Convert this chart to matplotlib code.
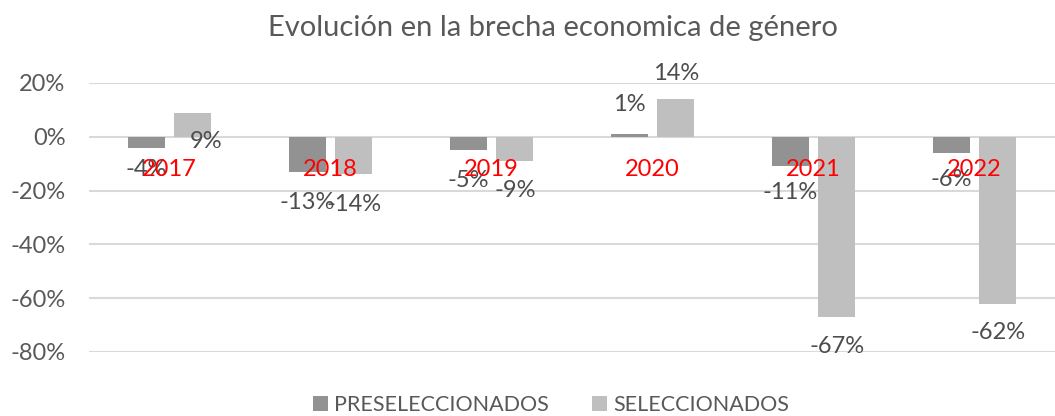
import matplotlib
matplotlib.use('Agg')
import matplotlib.pyplot as plt
import numpy as np
from matplotlib.ticker import FuncFormatter

plt.rcParams['font.family'] = ['Lato', 'DejaVu Sans']

years = ['2017', '2018', '2019', '2020', '2021', '2022']
preseleccionados = [-4, -13, -5, 1, -11, -6]
seleccionados = [9, -14, -9, 14, -67, -62]

# label offsets (pixels) from the end of each bar: (dx, dy)
pre_label_offsets = [(0, -22), (0, -31), (0, -30), (0, 30), (0, -26), (0, -27)]
sel_label_offsets = [(13, -29), (0, -30), (0, -29), (0, 26), (0, -29), (0, -29)]

DARK = '#929292'
LIGHT = '#bfbfbf'
TEXT = '#595959'
LABEL = '#4d4d4d'

W, H = 1055, 416
fig = plt.figure(figsize=(W / 100, H / 100), dpi=100)
ax = fig.add_axes([89 / W, 1 - 352 / H, (1055 - 89) / W, (352 - 83) / H])

x = np.arange(len(years))
width = 0.23
off = 0.145
bars_pre = ax.bar(x - off, preseleccionados, width, color=DARK, label='PRESELECCIONADOS', zorder=2)
bars_sel = ax.bar(x + off, seleccionados, width, color=LIGHT, label='SELECCIONADOS', zorder=2)

ax.set_xlim(-0.5, len(years) - 0.5)
ax.set_ylim(-80, 20)
ax.set_yticks(np.arange(-80, 21, 20))
ax.yaxis.set_major_formatter(FuncFormatter(lambda v, _: f'{v:.0f}%'))
ax.yaxis.grid(True, color='#d9d9d9', linewidth=1.5, zorder=0)
ax.set_xticks([])
ax.tick_params(axis='y', length=0, labelsize=17, labelcolor=TEXT, pad=17)
for s in ax.spines.values():
    s.set_visible(False)

for bars, vals, offs in ((bars_pre, preseleccionados, pre_label_offsets),
                         (bars_sel, seleccionados, sel_label_offsets)):
    for b, v, (dx, dy) in zip(bars, vals, offs):
        ax.annotate(f'{v}%', xy=(b.get_x() + b.get_width() / 2, v),
                    xytext=(dx, dy), textcoords='offset pixels',
                    ha='center', va='center', fontsize=17, color=LABEL, zorder=3)

# year labels drawn in red just under the zero line
for i, yr in enumerate(years):
    ax.text(i, -12.3, yr, ha='center', va='center', fontsize=17,
            color='#ff0000', zorder=4)

fig.text(553 / W, 1 - 28 / H, 'Evolución en la brecha economica de género',
         ha='center', va='center', fontsize=21, color=TEXT)

fig.legend(handles=[bars_pre, bars_sel], loc='center', bbox_to_anchor=(551 / W, 1 - 405 / H),
           ncol=2, frameon=False, fontsize=15.5, labelcolor=TEXT, handlelength=0.7,
           handleheight=0.7, columnspacing=2.0, handletextpad=0.3)

fig.savefig('out.png', dpi=100)
